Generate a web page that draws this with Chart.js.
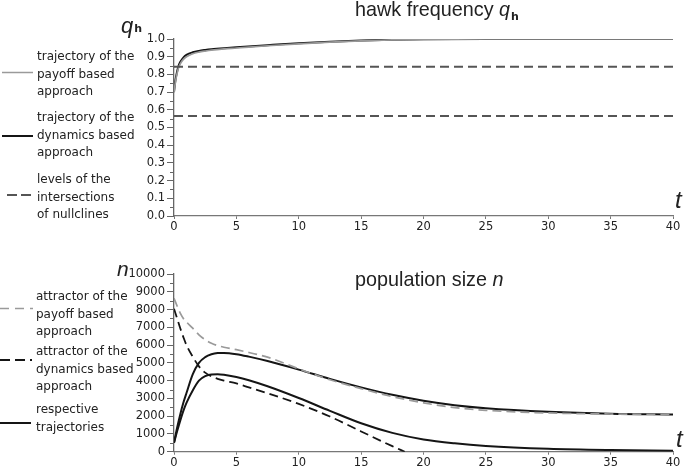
<!DOCTYPE html>
<html>
<head>
<meta charset="utf-8">
<script src="https://cdn.jsdelivr.net/npm/chart.js@4.4.1/dist/chart.umd.min.js"></script>
<style>
  html, body { margin: 0; padding: 0; background: #fff; }
  #page { position: relative; width: 685px; height: 466px; overflow: hidden; font-family: 'DejaVu Sans', sans-serif; color: #222; }
  canvas { position: absolute; left: 0; }
  #qChart { top: 0; }
  #nChart { top: 230px; }
  .lg { position: absolute; left: 37px; font-size: 12px; line-height: 17.5px; white-space: nowrap; }
  .ttl { position: absolute; font-family: 'Liberation Sans', Arial, sans-serif; font-size: 19.8px; line-height: 1; white-space: nowrap; }
  .ttl i { font-style: italic; }
  .ttl .sub { font-family: 'DejaVu Sans', sans-serif; font-size: 11px; font-weight: bold; position: relative; top: 4px; margin-left: 1px; }
  .var { position: absolute; font-family: 'Liberation Sans', Arial, sans-serif; font-style: italic; line-height: 1; white-space: nowrap; }
  .var .sub { font-family: 'DejaVu Sans', sans-serif; font-style: normal; font-weight: bold; font-size: 11px; position: relative; top: -1px; margin-left: 1px; }
  svg { position: absolute; left: 0; top: 0; }
</style>
</head>
<body>
<div id="page">
  <canvas id="qChart" width="685" height="240"></canvas>
  <canvas id="nChart" width="685" height="236"></canvas>

  <div class="ttl" style="left:355px; top:0px;">hawk frequency <i>q</i><span class="sub">h</span></div>
  <div class="ttl" style="left:355px; top:270px;">population size <i>n</i></div>

  <div class="var" style="left:121px; top:15px; font-size:22px;">q<span class="sub">h</span></div>
  <div class="var" style="left:117px; top:258px; font-size:21px;">n</div>
  <div class="var" style="left:675px; top:188px; font-size:24px;">t</div>
  <div class="var" style="left:676px; top:427px; font-size:24px;">t</div>

  <div class="lg" style="top:48px;">trajectory of the<br>payoff based<br>approach</div>
  <div class="lg" style="top:109px;">trajectory of the<br>dynamics based<br>approach</div>
  <div class="lg" style="top:171px;">levels of the<br>intersections<br>of nullclines</div>

  <div class="lg" style="top:288px; left:36px;">attractor of the<br>payoff based<br>approach</div>
  <div class="lg" style="top:343px; left:36px;">attractor of the<br>dynamics based<br>approach</div>
  <div class="lg" style="top:401px; left:36px;">respective<br>trajectories</div>

  <svg width="40" height="466">
    <line x1="2" y1="72.5" x2="33" y2="72.5" stroke="#9a9a9a" stroke-width="1.5"/>
    <line x1="2" y1="136" x2="33" y2="136" stroke="#151515" stroke-width="2"/>
    <line x1="7" y1="195" x2="31" y2="195" stroke="#555" stroke-width="2" stroke-dasharray="10,4"/>
    <line x1="0" y1="308.5" x2="33" y2="308.5" stroke="#9a9a9a" stroke-width="1.5" stroke-dasharray="9,6"/>
    <line x1="0" y1="360" x2="32" y2="360" stroke="#151515" stroke-width="1.8" stroke-dasharray="10,5"/>
    <line x1="0" y1="423" x2="31" y2="423" stroke="#151515" stroke-width="2"/>
  </svg>
</div>

<script>
  // hawk frequency q_h
  var tQ = [0, 0.1, 0.2, 0.35, 0.5, 0.75, 1, 1.5, 2, 2.5, 3, 4, 5, 7.5, 10, 12.5, 15, 17.5, 20, 25, 30, 35, 40];
  var qDynamics = [0.70, 0.76, 0.80, 0.845, 0.87, 0.895, 0.91, 0.925, 0.933, 0.938, 0.942, 0.948, 0.953, 0.965, 0.976, 0.984, 0.991, 0.996, 0.999, 1.0, 1.0, 1.0, 1.0];
  var qPayoff = [0.70, 0.75, 0.79, 0.835, 0.86, 0.885, 0.90, 0.917, 0.926, 0.932, 0.937, 0.944, 0.949, 0.962, 0.973, 0.982, 0.989, 0.995, 0.998, 1.0, 1.0, 1.0, 1.0];
  var qLevels = [0.843, 0.565];

  // population size n
  var tN = [0, 0.25, 0.5, 0.75, 1, 1.5, 2, 2.5, 3, 3.5, 4, 5, 6, 7.5, 10, 12.5, 15, 17.5, 20, 22.5, 25, 30, 35, 40];
  var nAttrPayoff = [8630, 8200, 7800, 7500, 7300, 6950, 6580, 6300, 6100, 5970, 5880, 5740, 5580, 5320, 4660, 4050, 3550, 3100, 2750, 2480, 2330, 2180, 2120, 2100];
  var nTrajPayoff = [500, 1350, 2100, 2750, 3300, 4350, 5000, 5320, 5480, 5550, 5560, 5490, 5350, 5100, 4620, 4100, 3620, 3200, 2870, 2620, 2450, 2250, 2140, 2100];
  var nTrajDynamics = [500, 1150, 1750, 2300, 2750, 3450, 4000, 4250, 4350, 4360, 4330, 4200, 4020, 3680, 3020, 2300, 1600, 1060, 690, 470, 320, 160, 90, 60];
  var tNAttrDyn = [0, 0.25, 0.5, 0.75, 1, 1.5, 2, 2.5, 3, 3.5, 4, 5, 6, 7.5, 10, 12.5, 15, 17.5, 18.5];
  var nAttrDynamics = [8050, 7500, 6950, 6450, 6000, 5350, 4800, 4450, 4240, 4100, 4000, 3840, 3620, 3290, 2690, 1980, 1140, 310, 0];

  var tTicks = [0, 5, 10, 15, 20, 25, 30, 35, 40];

  function pts(xs, ys) {
    return xs.map(function (x, i) { return { x: x, y: ys[i] }; });
  }

  function line(data, color, width, dash) {
    return {
      data: data,
      borderColor: color,
      borderWidth: width,
      borderDash: dash || [],
      pointRadius: 0,
      fill: false,
      cubicInterpolationMode: 'monotone',
    };
  }

  var minorTicks = {
    id: 'minorTicks',
    afterDraw: function (chart, args, opts) {
      var s = chart.scales.y;
      var ctx = chart.ctx;
      ctx.save();
      ctx.strokeStyle = '#666';
      ctx.lineWidth = 1;
      for (var v = s.min + opts.step / 2; v < s.max; v += opts.step) {
        var y = Math.round(s.getPixelForValue(v)) + 0.5;
        ctx.beginPath();
        ctx.moveTo(s.right - 4, y);
        ctx.lineTo(s.right, y);
        ctx.stroke();
      }
      ctx.restore();
    },
  };

  function makeOptions(cfg) {
    return {
      responsive: false,
      animation: false,
      events: [],
      layout: { padding: { left: 0, right: 12, top: cfg.top, bottom: 0 } },
      plugins: {
        legend: { display: false },
        tooltip: { enabled: false },
        minorTicks: { step: cfg.yStep },
      },
      scales: {
        x: {
          type: 'linear',
          min: 0,
          max: 40,
          afterFit: function (scale) { scale.height = cfg.xHeight; },
          afterBuildTicks: function (scale) {
            scale.ticks = tTicks.map(function (v) { return { value: v }; });
          },
          grid: { drawOnChartArea: false, tickLength: 3, color: '#777' },
          border: { color: '#777', width: 1.3 },
          ticks: { color: '#222', padding: 1, maxRotation: 0, font: { family: 'DejaVu Sans', size: 11.5 } },
        },
        y: {
          min: 0,
          max: cfg.yMax,
          afterFit: function (scale) { scale.width = 174; },
          grid: { drawOnChartArea: false, tickLength: 7, color: '#666' },
          border: { color: '#666', width: 1.3 },
          ticks: {
            stepSize: cfg.yStep,
            color: '#222',
            padding: 2,
            font: { family: 'DejaVu Sans', size: 11.5 },
            callback: cfg.yLabel,
          },
        },
      },
    };
  }

  function initQChart() {
    var canvas = document.getElementById('qChart');
    var datasets = qLevels.map(function (lv) {
      return line(pts([0, 40], [lv, lv]), '#555', 2, [9, 5]);
    });
    datasets.push(line(pts(tQ, qPayoff), '#9a9a9a', 1.7));
    datasets.push(line(pts(tQ, qDynamics), '#151515', 2));
    new Chart(canvas, {
      type: 'line',
      data: { datasets: datasets },
      options: makeOptions({
        top: 39,
        xHeight: 24,
        yMax: 1,
        yStep: 0.1,
        yLabel: function (v) { return Number(v).toFixed(1); },
      }),
      plugins: [minorTicks],
    });
  }

  function initNChart() {
    var canvas = document.getElementById('nChart');
    new Chart(canvas, {
      type: 'line',
      data: {
        datasets: [
          line(pts(tN, nAttrPayoff), '#9a9a9a', 1.7, [9, 5]),
          line(pts(tNAttrDyn, nAttrDynamics), '#151515', 1.8, [9, 5]),
          line(pts(tN, nTrajPayoff), '#151515', 2),
          line(pts(tN, nTrajDynamics), '#151515', 2),
        ],
      },
      options: makeOptions({
        top: 44,
        xHeight: 14.3,
        yMax: 10000,
        yStep: 1000,
        yLabel: function (v) { return String(v); },
      }),
      plugins: [minorTicks],
    });
  }

  initQChart();
  initNChart();
</script>
</body>
</html>
